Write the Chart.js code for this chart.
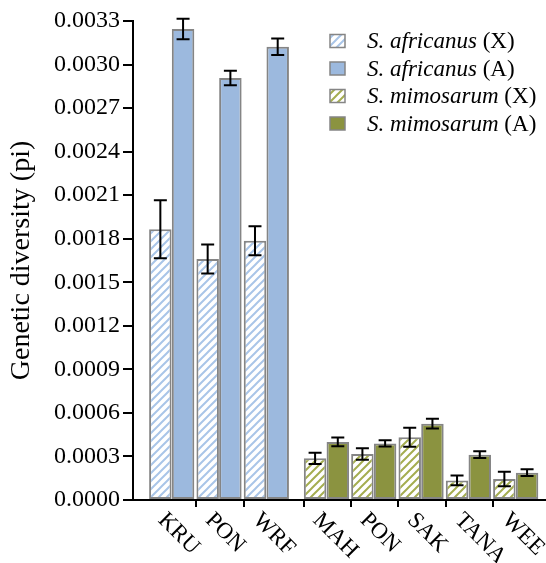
<!DOCTYPE html>
<html>
<head>
<meta charset="utf-8">
<script src="https://cdn.jsdelivr.net/npm/chart.js@4"></script>
<style>
  body { margin: 0; background: #fff; }
  canvas { display: block; }
  .preload { font-family: "Liberation Serif"; position: absolute; left: -999px; top: 0; }
</style>
</head>
<body>
<span class="preload">0.0033 <i>S. africanus</i> (X)</span>
<canvas id="myChart" width="546" height="563"></canvas>
<script>
/* Data */
const africanusSites = ['KRU', 'PON', 'WRF'];
const mimosarumSites = ['MAH', 'PON', 'SAK', 'TANA', 'WEE'];

const africanusX = [0.001865, 0.00166, 0.001786];
const africanusXErr = [0.0002, 0.0001, 0.0001];
const africanusA = [0.003245, 0.002907, 0.003123];
const africanusAErr = [0.00007, 0.00005, 0.000057];

const mimosarumX = [0.000287, 0.000317, 0.000432, 0.000135, 0.000145];
const mimosarumXErr = [0.000039, 0.000039, 0.000066, 0.000033, 0.00005];
const mimosarumA = [0.0004, 0.00039, 0.000526, 0.000312, 0.000188];
const mimosarumAErr = [0.00003, 0.000022, 0.000034, 0.000023, 0.000023];

const yTicks = [0, 0.0003, 0.0006, 0.0009, 0.0012, 0.0015, 0.0018, 0.0021, 0.0024, 0.0027, 0.0030, 0.0033];

const seriesNames = [
  ['S. africanus', ' (X)'],
  ['S. africanus', ' (A)'],
  ['S. mimosarum', ' (X)'],
  ['S. mimosarum', ' (A)']
];

/* Layout helpers */
const SERIF = '"Liberation Serif", "Times New Roman", Times, serif';
const speciesGap = 0.27;
const allSites = africanusSites.concat(mimosarumSites);

function groupCenter (i) {
  return i + 0.48 + (i >= africanusSites.length ? speciesGap : 0);
}

function points (values, offset, first) {
  return values.map(function (v, i) {
    return { x: groupCenter(first + i) + offset, y: v };
  });
}

/* Hatch patterns */
function hatch (color) {
  const c = document.createElement('canvas');
  c.width = 8;
  c.height = 8;
  const g = c.getContext('2d');
  g.fillStyle = '#fff';
  g.fillRect(0, 0, 8, 8);
  g.strokeStyle = color;
  g.lineWidth = 2;
  g.beginPath();
  g.moveTo(-1, 9); g.lineTo(9, -1);
  g.moveTo(-5, 5); g.lineTo(5, -5);
  g.moveTo(3, 13); g.lineTo(13, 3);
  g.stroke();
  return g.createPattern(c, 'repeat');
}

const blueHatch = hatch('#a9c5e8');
const oliveHatch = hatch('#a4ad50');
const blueFill = '#9cb9de';
const oliveFill = '#8b9340';
const edge = '#858585';

const nA = africanusSites.length;

const datasets = [
  { fill: blueHatch, data: points(africanusX, -0.24, 0), err: africanusXErr },
  { fill: blueFill, data: points(africanusA, 0.24, 0), err: africanusAErr },
  { fill: oliveHatch, data: points(mimosarumX, -0.24, nA), err: mimosarumXErr },
  { fill: oliveFill, data: points(mimosarumA, 0.24, nA), err: mimosarumAErr }
].map(function (d, i) {
  return {
    label: seriesNames[i].join(''),
    data: d.data,
    err: d.err,
    backgroundColor: d.fill,
    borderColor: edge,
    borderWidth: 2,
    borderSkipped: false,
    grouped: false,
    barPercentage: 0.99,
    categoryPercentage: 1
  };
});

/* Plugins */
const errorBars = {
  id: 'errorBars',
  afterDatasetsDraw: function (chart) {
    const ctx = chart.ctx;
    const y = chart.scales.y;
    ctx.save();
    ctx.strokeStyle = '#000';
    ctx.lineWidth = 2;
    chart.data.datasets.forEach(function (ds, di) {
      chart.getDatasetMeta(di).data.forEach(function (bar, i) {
        const v = ds.data[i].y;
        const top = y.getPixelForValue(v + ds.err[i]);
        const bot = y.getPixelForValue(v - ds.err[i]);
        ctx.beginPath();
        ctx.moveTo(bar.x, top); ctx.lineTo(bar.x, bot);
        ctx.moveTo(bar.x - 6.5, top); ctx.lineTo(bar.x + 6.5, top);
        ctx.moveTo(bar.x - 6.5, bot); ctx.lineTo(bar.x + 6.5, bot);
        ctx.stroke();
      });
    });
    ctx.restore();
  }
};

const siteLabels = {
  id: 'siteLabels',
  afterDraw: function (chart) {
    const ctx = chart.ctx;
    const x = chart.scales.x;
    const base = chart.chartArea.bottom + 10;
    ctx.save();
    ctx.fillStyle = '#000';
    ctx.font = '23px ' + SERIF;
    ctx.textAlign = 'left';
    ctx.textBaseline = 'alphabetic';
    allSites.forEach(function (name, i) {
      ctx.save();
      ctx.translate(x.getPixelForValue(groupCenter(i)) - 3.5, base);
      ctx.rotate(Math.PI / 4);
      ctx.fillText(name, 0, 15.5);
      ctx.restore();
    });
    ctx.restore();
  }
};

const legendBox = {
  id: 'legendBox',
  afterDraw: function (chart) {
    const ctx = chart.ctx;
    const rows = [41, 68.5, 96, 123.5];
    ctx.save();
    ctx.textBaseline = 'middle';
    chart.data.datasets.forEach(function (ds, i) {
      const cy = rows[i];
      ctx.fillStyle = ds.backgroundColor;
      ctx.fillRect(330, cy - 6.5, 15, 13);
      ctx.strokeStyle = edge;
      ctx.lineWidth = 1.5;
      ctx.strokeRect(330, cy - 6.5, 15, 13);
      ctx.fillStyle = '#000';
      ctx.font = 'italic 23px ' + SERIF;
      ctx.fillText(seriesNames[i][0], 367, cy + 1);
      const w = ctx.measureText(seriesNames[i][0]).width;
      ctx.font = '23px ' + SERIF;
      ctx.fillText(seriesNames[i][1], 367 + w, cy + 1);
    });
    ctx.restore();
  }
};

/* Chart */
function drawChart () {
  const ctx = document.getElementById('myChart').getContext('2d');

  return new Chart(ctx, {
    type: 'bar',
    data: { datasets: datasets },
    options: {
      responsive: false,
      animation: false,
      layout: { padding: { top: 21, right: 0, bottom: 0, left: 0 } },
      plugins: {
        legend: { display: false },
        tooltip: { enabled: false }
      },
      scales: {
        x: {
          type: 'linear',
          offset: false,
          min: -0.338,
          max: 8.39,
          afterBuildTicks: function (s) {
            s.ticks = allSites.slice(1).map(function (n, i) {
              return { value: groupCenter(i + 1) - 0.48 };
            });
          },
          afterFit: function (s) { s.height = 63; },
          ticks: { display: false },
          grid: {
            offset: false,
            drawOnChartArea: false,
            drawTicks: true,
            tickLength: 7,
            color: '#000',
            lineWidth: 2
          },
          border: { display: true, color: '#000', width: 2 }
        },
        y: {
          min: 0,
          max: 0.0033,
          afterBuildTicks: function (s) {
            s.ticks = yTicks.map(function (v) { return { value: v }; });
          },
          afterFit: function (s) { s.width = 133; },
          ticks: {
            color: '#000',
            padding: 3,
            font: { family: SERIF, size: 24 },
            callback: function (v) { return v.toFixed(4); }
          },
          grid: {
            drawOnChartArea: false,
            drawTicks: true,
            tickLength: 10,
            color: '#000',
            lineWidth: 2
          },
          border: { display: true, color: '#000', width: 2 },
          title: {
            display: true,
            text: 'Genetic diversity (pi)',
            color: '#000',
            padding: { top: 5, bottom: 0 },
            font: { family: SERIF, size: 28 }
          }
        }
      }
    },
    plugins: [errorBars, siteLabels, legendBox]
  });
}

Promise.all([
  document.fonts.load('24px "Liberation Serif"'),
  document.fonts.load('italic 23px "Liberation Serif"')
]).then(drawChart, drawChart);
</script>
</body>
</html>
